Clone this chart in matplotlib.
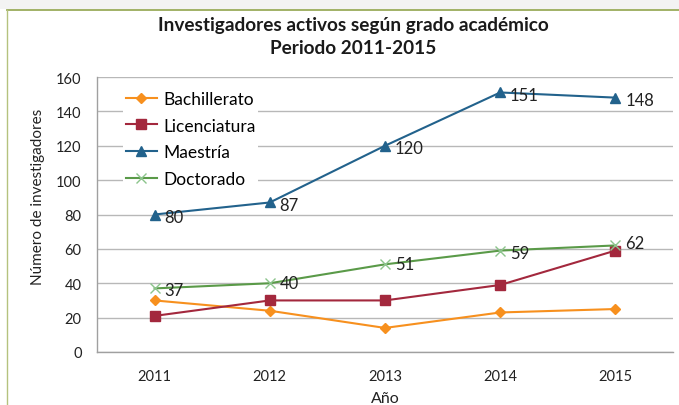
import matplotlib
matplotlib.use("Agg")
import matplotlib.pyplot as plt
from matplotlib.patches import Rectangle
from matplotlib.lines import Line2D

plt.rcParams['font.family'] = ['Lato', 'DejaVu Sans']

years = ["2011", "2012", "2013", "2014", "2015"]
bachillerato = [30, 24, 14, 23, 25]
licenciatura = [21, 30, 30, 39, 59]
maestria = [80, 87, 120, 151, 148]
doctorado = [37, 40, 51, 59, 62]

W, H = 679, 406
fig = plt.figure(figsize=(W / 100, H / 100), dpi=100)
fig.patch.set_facecolor("white")

# top light strip and green frame
fig.patches.append(Rectangle((0, 1 - 10 / H), 1, 10 / H, transform=fig.transFigure,
                             facecolor="#f3f3f3", edgecolor="none", zorder=0))
fig.lines.append(Line2D([7 / W, 1], [1 - 10.5 / H, 1 - 10.5 / H], transform=fig.transFigure,
                        color="#9aab5a", lw=1.3))
fig.lines.append(Line2D([7 / W, 7 / W], [0, 1 - 10.5 / H], transform=fig.transFigure,
                        color="#b5c27e", lw=1.0))

ax = fig.add_axes([97 / W, 1 - 353 / H, (673 - 97) / W, (353 - 78) / H])
x = list(range(len(years)))

c_bach = "#f7901e"
c_lic = "#a3283d"
c_mae = "#22628c"
c_doc = "#5a9a48"

ax.plot(x, bachillerato, color=c_bach, lw=1.5, marker="D", ms=5, label="Bachillerato", zorder=3)
ax.plot(x, licenciatura, color=c_lic, lw=1.5, marker="s", ms=6.5, label="Licenciatura", zorder=3)
ax.plot(x, maestria, color=c_mae, lw=1.5, marker="^", ms=7, label="Maestría", zorder=3)
ax.plot(x, doctorado, color=c_doc, lw=1.5, marker="x", ms=7, mec="#8cc48c", mew=1.0,
        label="Doctorado", zorder=3)

for xi, v in zip(x, maestria):
    ax.annotate(str(v), (xi, v), xytext=(7, -1.5), textcoords="offset points",
                ha="left", va="center", fontsize=12, color="#222222", zorder=4)
doc_offsets = [(7, -1.5), (7, 0), (7, 0), (7, -1.5), (7, 1.5)]
for xi, v, off in zip(x, doctorado, doc_offsets):
    ax.annotate(str(v), (xi, v), xytext=off, textcoords="offset points",
                ha="left", va="center", fontsize=12, color="#222222", zorder=4)

ax.set_xlim(-0.5, len(years) - 0.5)
ax.set_ylim(0, 160)
ax.set_yticks(range(0, 161, 20))
ax.set_xticks(x)
ax.set_xticklabels(years)
ax.tick_params(axis="both", length=0, labelsize=10.5, colors="#222222")
ax.tick_params(axis="y", pad=11)
ax.tick_params(axis="x", pad=12)
ax.grid(axis="y", color="#b8b8b8", lw=1.0, zorder=0)
for s in ["top", "right"]:
    ax.spines[s].set_visible(False)
for s in ["left", "bottom"]:
    ax.spines[s].set_color("#a0a0a0")
    ax.spines[s].set_linewidth(1.0)

ax.set_xlabel("Año", fontsize=11.5, color="#222222", labelpad=6)
ax.set_ylabel("Número de investigadores", fontsize=11, color="#222222")
ax.yaxis.set_label_coords(-0.090, 0.567)

leg = ax.legend(loc="upper left", bbox_to_anchor=(0.03, 0.991), frameon=True, fancybox=False,
                edgecolor="none", facecolor="white", framealpha=1, fontsize=12.5,
                handlelength=1.8, handletextpad=0.35, labelspacing=0.62, borderpad=0.15)
leg.set_zorder(5)

fig.text(353 / W, 1 - 25 / H, "Investigadores activos según grado académico", ha="center",
         va="center", fontsize=13.7, fontweight="bold", color="#1a1a1a")
fig.text(353 / W, 1 - 48 / H, "Periodo 2011-2015", ha="center", va="center",
         fontsize=13.7, fontweight="bold", color="#1a1a1a")

fig.savefig("out.png", dpi=100)
